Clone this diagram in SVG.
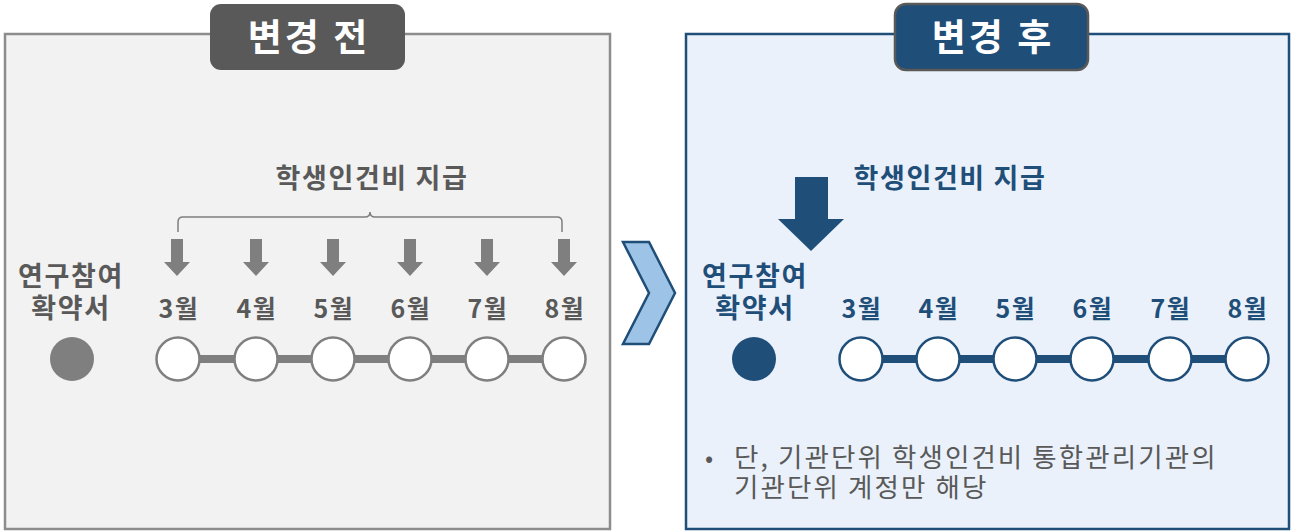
<svg xmlns="http://www.w3.org/2000/svg" width="1296" height="531" viewBox="0 0 1296 531">
<style>
text{font-family:"Noto Sans CJK KR","Noto Sans",sans-serif;}
.g{fill:#595959;}
.n{fill:#1f4e79;}
.ttl{font-size:37px;fill:#fff;font-weight:bold;text-anchor:middle;letter-spacing:3px;}
.h{font-size:27px;font-weight:bold;text-anchor:middle;letter-spacing:1.6px;}
.m{font-size:25px;font-weight:bold;text-anchor:middle;letter-spacing:1.5px;}
.t{font-size:26.5px;fill:#595959;letter-spacing:2.1px;}
.oc{fill:#fff;stroke-width:2.5;}
</style>
<defs>
<path id="garr" d="M-6,-37 h12 v23 h7 l-13,14 l-13,-14 h7 z" fill="#7f7f7f"/>
</defs>
<rect width="1296" height="531" fill="#fff"/>
<g id="before-panel">
<rect x="5" y="34" width="605" height="495" fill="#f2f2f2" stroke="#8c8c8c" stroke-width="2.5"/>
</g>
<g id="before-title">
<rect x="210" y="4" width="195" height="66" rx="11" fill="#595959"/>
<text class="ttl" x="309" y="51">변경 전</text>
</g>
<g id="after-panel">
<rect x="686" y="34" width="603" height="495" fill="#eaf1fa" stroke="#1f4e79" stroke-width="2.5"/>
</g>
<g id="after-title">
<rect x="895" y="4" width="193" height="66" rx="11" fill="#1f4e79" stroke="#595959" stroke-width="2.5"/>
<text class="ttl" x="993" y="51">변경 후</text>
</g>
<g id="chevron">
<polygon points="623,242 649,242 675,293 649,344 623,344 649,293" fill="#9dc3e6" stroke="#1f4e79" stroke-width="2.5" stroke-linejoin="miter"/>
</g>
<g id="connectors">
<line x1="177" y1="359" x2="564" y2="359" stroke="#7f7f7f" stroke-width="8"/>
<line x1="861" y1="359" x2="1247" y2="359" stroke="#1f4e79" stroke-width="8"/>
<path d="M178,232 v-10 q0,-5 5,-5 h182 q5,0 5,-5 q0,5 5,5 h182 q5,0 5,5 v10" fill="none" stroke="#7f7f7f" stroke-width="1.5"/>
</g>
<g id="before-pay-label">
<text class="h g" x="372" y="188">학생인건비 지급</text>
</g>
<g id="before-arrows">
<use href="#garr" x="177" y="276"/>
<use href="#garr" x="256" y="276"/>
<use href="#garr" x="333" y="276"/>
<use href="#garr" x="410" y="276"/>
<use href="#garr" x="487" y="276"/>
<use href="#garr" x="564" y="276"/>
</g>
<g id="before-agreement">
<text class="h g" x="71" y="286">연구참여</text>
<text class="h g" x="71" y="318">확약서</text>
<circle cx="72" cy="359" r="22" fill="#7f7f7f"/>
</g>
<g id="before-months">
<text class="m g" x="179" y="318">3월</text>
<text class="m g" x="257" y="318">4월</text>
<text class="m g" x="334" y="318">5월</text>
<text class="m g" x="411" y="318">6월</text>
<text class="m g" x="488" y="318">7월</text>
<text class="m g" x="565" y="318">8월</text>
<circle class="oc" cx="178" cy="359" r="21.5" stroke="#7f7f7f"/>
<circle class="oc" cx="256" cy="359" r="21.5" stroke="#7f7f7f"/>
<circle class="oc" cx="333" cy="359" r="21.5" stroke="#7f7f7f"/>
<circle class="oc" cx="410" cy="359" r="21.5" stroke="#7f7f7f"/>
<circle class="oc" cx="487" cy="359" r="21.5" stroke="#7f7f7f"/>
<circle class="oc" cx="564" cy="359" r="21.5" stroke="#7f7f7f"/>
</g>
<g id="after-arrow">
<polygon points="795,177 828,177 828,219 844,219 811,251 778,219 795,219" fill="#1f4e79"/>
</g>
<g id="after-pay-label">
<text class="h n" x="950" y="188">학생인건비 지급</text>
</g>
<g id="after-agreement">
<text class="h n" x="755" y="286">연구참여</text>
<text class="h n" x="755" y="318">확약서</text>
<circle cx="754" cy="359" r="22" fill="#1f4e79"/>
</g>
<g id="after-months">
<text class="m n" x="862" y="318">3월</text>
<text class="m n" x="939" y="318">4월</text>
<text class="m n" x="1016" y="318">5월</text>
<text class="m n" x="1093" y="318">6월</text>
<text class="m n" x="1171" y="318">7월</text>
<text class="m n" x="1248" y="318">8월</text>
<circle class="oc" cx="861" cy="359" r="21.5" stroke="#1f4e79"/>
<circle class="oc" cx="938" cy="359" r="21.5" stroke="#1f4e79"/>
<circle class="oc" cx="1015" cy="359" r="21.5" stroke="#1f4e79"/>
<circle class="oc" cx="1092" cy="359" r="21.5" stroke="#1f4e79"/>
<circle class="oc" cx="1170" cy="359" r="21.5" stroke="#1f4e79"/>
<circle class="oc" cx="1247" cy="359" r="21.5" stroke="#1f4e79"/>
</g>
<g id="note">
<text x="705" y="467" font-size="24" fill="#595959" font-family="Noto Sans, sans-serif">•</text>
<text class="t" x="734" y="467">단, 기관단위 학생인건비 통합관리기관의</text>
<text class="t" x="734" y="497">기관단위 계정만 해당</text>
</g>
</svg>
